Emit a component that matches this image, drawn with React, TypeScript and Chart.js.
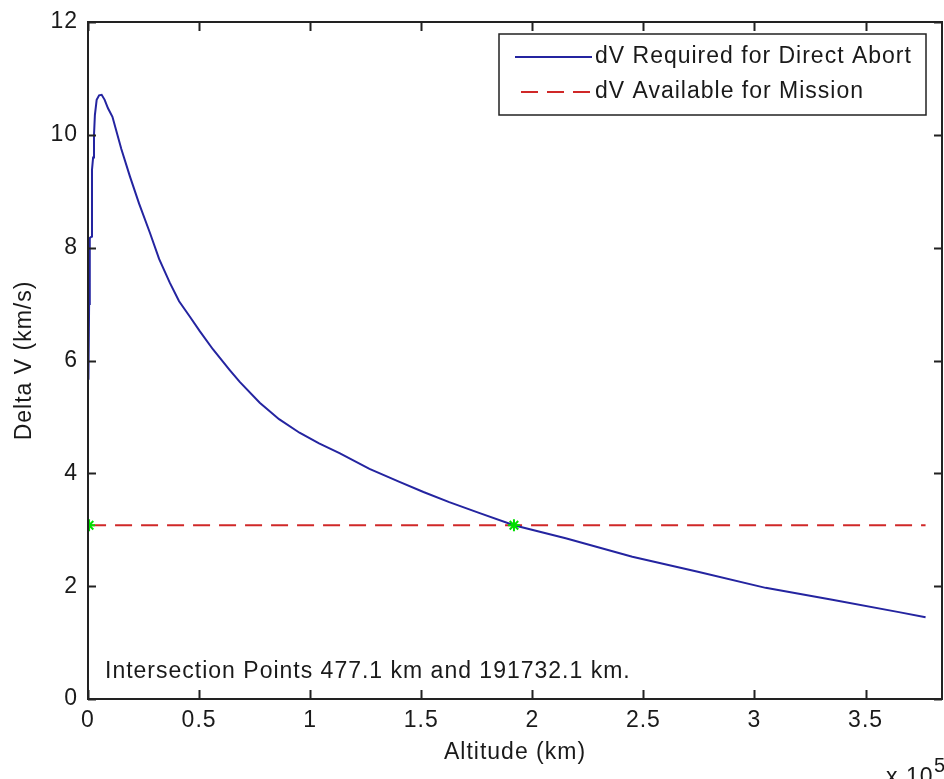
import { useEffect, useRef } from "react";
import { Chart, registerables } from "chart.js";

Chart.register(...registerables);

// ---- data ----
const altitudeKm = [
  200, 500, 800, 1700, 1800, 2300, 2700, 3100, 3900, 5000, 6150, 7500, 9000, 11000,
  15000, 18900, 23000, 27900, 32000, 36800, 41000, 45800, 50300, 56200, 63800, 68300,
  77300, 86000, 95200, 104000, 113200, 126700, 140200, 151000, 162600, 176000, 191732,
  215000, 245000, 275000, 305000, 335000, 365000, 377000,
];
const deltaV = [
  5.66, 7.0, 8.17, 8.2, 9.38, 9.6, 10.0, 10.35, 10.62, 10.7, 10.71, 10.62, 10.47, 10.32,
  9.75, 9.26, 8.78, 8.26, 7.8, 7.38, 7.05, 6.78, 6.52, 6.2, 5.83, 5.62,
  5.25, 4.96, 4.72, 4.53, 4.36, 4.08, 3.85, 3.67, 3.49, 3.3, 3.08,
  2.85, 2.52, 2.25, 1.97, 1.76, 1.54, 1.45,
];
const availableAltitudeKm = [477.1, 377000];
const availableDeltaV = [3.08, 3.08];
const intersectionAltitudeKm = [477.1, 191732.1];
const intersectionDeltaV = [3.08, 3.08];

const xTickValues = [0, 50000, 100000, 150000, 200000, 250000, 300000, 350000];
const yTickValues = [0, 2, 4, 6, 8, 10, 12];
const xMin = 0;
const xMax = 384400;
const yMin = 0;
const yMax = 12;

const seriesLabels = ["dV Required for Direct Abort", "dV Available for Mission"];
const annotationText = "Intersection Points 477.1 km and 191732.1 km.";
const xAxisTitle = "Altitude (km)";
const yAxisTitle = "Delta V (km/s)";
const xExponentBase = "x 10";
const xExponent = "5";

const FONT = '"Liberation Sans", Arial, Helvetica, sans-serif';
const FS = 23;
const SPACING = "1px";
const TEXT = "#1a1a1a";
const BLUE = "#2424a0";
const RED = "#d02828";
const GREEN = "#00e000";

const letterSpacingPlugin = {
  id: "letterSpacing",
  beforeDraw(chart: any) {
    (chart.ctx as any).letterSpacing = SPACING;
  },
};

const matlabFrame = {
  id: "matlabFrame",
  afterDraw(chart: any) {
    const ctx = chart.ctx as CanvasRenderingContext2D;
    const { left, right, top, bottom } = chart.chartArea;
    const xs = chart.scales.x;
    const ys = chart.scales.y;
    ctx.save();
    (ctx as any).letterSpacing = SPACING;
    // box
    ctx.strokeStyle = "#222";
    ctx.lineWidth = 2;
    ctx.setLineDash([]);
    ctx.strokeRect(left, top, right - left, bottom - top);
    // inward ticks
    ctx.beginPath();
    xTickValues.forEach((v) => {
      const px = Math.round(xs.getPixelForValue(v)) + 0.5;
      ctx.moveTo(px, bottom);
      ctx.lineTo(px, bottom - 9);
      ctx.moveTo(px, top);
      ctx.lineTo(px, top + 9);
    });
    yTickValues.forEach((v) => {
      const py = Math.round(ys.getPixelForValue(v)) + 0.5;
      ctx.moveTo(left, py);
      ctx.lineTo(left + 8, py);
      ctx.moveTo(right, py);
      ctx.lineTo(right - 8, py);
    });
    ctx.stroke();

    // legend
    const boxW = 427;
    const boxH = 81;
    const boxX = right - 16 - boxW;
    const boxY = top + 12;
    ctx.fillStyle = "#fff";
    ctx.fillRect(boxX, boxY, boxW, boxH);
    ctx.lineWidth = 1.5;
    ctx.strokeStyle = "#222";
    ctx.strokeRect(boxX, boxY, boxW, boxH);
    const row1 = boxY + 23;
    const row2 = boxY + 58;
    ctx.lineWidth = 2;
    ctx.strokeStyle = BLUE;
    ctx.beginPath();
    ctx.moveTo(boxX + 16, row1);
    ctx.lineTo(boxX + 93, row1);
    ctx.stroke();
    ctx.strokeStyle = RED;
    ctx.setLineDash([17, 9]);
    ctx.beginPath();
    ctx.moveTo(boxX + 22, row2);
    ctx.lineTo(boxX + 93, row2);
    ctx.stroke();
    ctx.setLineDash([]);
    ctx.fillStyle = TEXT;
    ctx.font = `${FS}px ${FONT}`;
    ctx.textAlign = "left";
    ctx.textBaseline = "middle";
    ctx.fillText(seriesLabels[0], boxX + 96, row1);
    ctx.fillText(seriesLabels[1], boxX + 96, row2);

    // annotation
    ctx.fillText(annotationText, left + 17, bottom - 27);

    // exponent label
    ctx.textBaseline = "alphabetic";
    ctx.fillText(xExponentBase, right - 56, bottom + 85);
    ctx.font = `20px ${FONT}`;
    ctx.fillText(xExponent, right - 8, bottom + 73);
    ctx.restore();
  },
};

export default function App() {
  const canvasRef = useRef<HTMLCanvasElement | null>(null);

  useEffect(() => {
    if (!canvasRef.current) return;
    Chart.defaults.font.family = FONT;
    Chart.defaults.font.size = FS;
    Chart.defaults.color = TEXT;

    const chart = new Chart(canvasRef.current, {
      type: "scatter",
      data: {
        datasets: [
          {
            label: "Intersection",
            data: intersectionAltitudeKm.map((x, i) => ({ x, y: intersectionDeltaV[i] })),
            showLine: false,
            pointStyle: "star",
            pointRadius: 6,
            borderColor: GREEN,
            backgroundColor: GREEN,
            borderWidth: 2,
            order: 1,
          },
          {
            label: seriesLabels[0],
            data: altitudeKm.map((x, i) => ({ x, y: deltaV[i] })),
            showLine: true,
            borderColor: BLUE,
            borderWidth: 2,
            pointRadius: 0,
            tension: 0,
            order: 2,
          },
          {
            label: seriesLabels[1],
            data: availableAltitudeKm.map((x, i) => ({ x, y: availableDeltaV[i] })),
            showLine: true,
            borderColor: RED,
            borderDash: [17, 9],
            borderWidth: 2,
            pointRadius: 0,
            order: 3,
          },
        ],
      },
      options: {
        animation: false,
        responsive: false,
        devicePixelRatio: 1,
        layout: { autoPadding: false, padding: { top: 22, right: 2, left: 0, bottom: 0 } },
        plugins: {
          legend: { display: false },
          tooltip: { enabled: false },
        },
        scales: {
          x: {
            type: "linear",
            min: xMin,
            max: xMax,
            grid: { display: false, drawTicks: false },
            border: { display: false },
            afterBuildTicks: (scale: any) => {
              scale.ticks = xTickValues.map((value) => ({ value }));
            },
            afterFit: (scale: any) => {
              scale.height = 80;
              scale.paddingLeft = 0;
              scale.paddingRight = 0;
            },
            ticks: {
              padding: 8,
              maxRotation: 0,
              autoSkip: false,
              callback: (v: any) => String(Number(v) / 100000),
              font: { size: FS },
            },
            title: {
              display: true,
              text: xAxisTitle,
              font: { size: FS },
              padding: { top: 0, bottom: 13 },
            },
          },
          y: {
            type: "linear",
            min: yMin,
            max: yMax,
            grid: { display: false, drawTicks: false },
            border: { display: false },
            afterBuildTicks: (scale: any) => {
              scale.ticks = yTickValues.map((value) => ({ value }));
            },
            afterFit: (scale: any) => {
              scale.width = 88;
              scale.paddingTop = 0;
              scale.paddingBottom = 0;
            },
            ticks: {
              padding: 10,
              autoSkip: false,
              font: { size: FS },
            },
            title: {
              display: true,
              text: yAxisTitle,
              font: { size: FS },
              padding: { top: 11, bottom: 0 },
            },
          },
        },
      },
      plugins: [letterSpacingPlugin, matlabFrame],
    });
    return () => chart.destroy();
  }, []);

  return (
    <div style={{ position: "absolute", left: 0, top: 0, width: 944, height: 779, background: "#fff" }}>
      <canvas ref={canvasRef} width={944} height={779} style={{ display: "block" }} />
    </div>
  );
}
